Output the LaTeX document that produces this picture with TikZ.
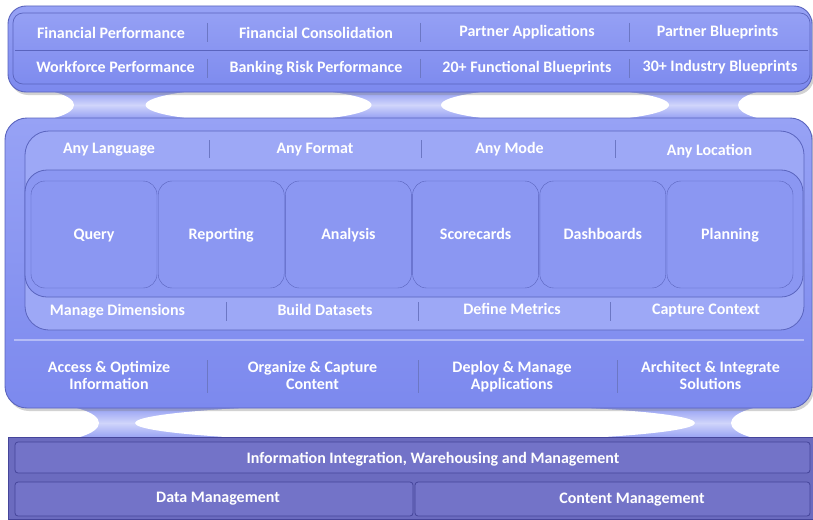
\documentclass[tikz,border=0pt]{standalone}
\usepackage{fontspec}
\setmainfont{Carlito}
\usetikzlibrary{positioning,shadows}
\definecolor{paneltop}{HTML}{97A2F5}
\definecolor{panelbot}{HTML}{7C89EE}
\definecolor{frameline}{HTML}{5A64BE}
\definecolor{stripcol}{HTML}{9DA8F6}
\definecolor{cardcol}{HTML}{8B97F2}
\definecolor{necktop}{HTML}{8E99F2}
\definecolor{neckmid}{HTML}{D0D5FB}
\definecolor{sepcol}{HTML}{6C77C4}
\definecolor{basecol}{HTML}{6B6BBF}
\definecolor{baseline}{HTML}{45459A}
\definecolor{basestrip}{HTML}{7373C8}

\begin{document}
\begin{tikzpicture}[x=1pt,y=-1pt]
    \tikzstyle{lbl}=[text=white,font=\bfseries\fontsize{16}{17}\selectfont,align=center,inner sep=0pt,text height=10pt,text depth=0pt]
    \tikzstyle{panel}=[draw=frameline,line width=0.9pt,top color=paneltop,bottom color=panelbot,drop shadow={shadow xshift=2pt,shadow yshift=-3pt,opacity=0.35}]
    \tikzstyle{card}=[draw=frameline,fill=cardcol,rounded corners=14pt,minimum width=126pt,minimum height=107pt,lbl]
    \tikzstyle{sep}=[draw=sepcol,line width=1pt]
    \tikzstyle{neck}=[top color=necktop,bottom color=necktop,middle color=neckmid]
    \tikzstyle{base}=[draw=baseline,line width=0.8pt,fill=basestrip,rounded corners=3pt]

    \useasboundingbox (0,0) rectangle (813,519);
    \fill[white] (0,0) rectangle (813,519);

    \path[neck] (30,90) rectangle (780,120);
    \fill[white] (18,105) ellipse [x radius=56pt, y radius=17pt];
    \fill[white] (258.5,105) ellipse [x radius=113pt, y radius=17pt];
    \fill[white] (555,105) ellipse [x radius=114pt, y radius=17pt];
    \fill[white] (792,105) ellipse [x radius=54pt, y radius=17pt];

    \path[neck] (60,406) rectangle (760,440);
    \fill[white] (40,423) ellipse [x radius=59pt, y radius=19pt];
    \fill[white] (415,423) ellipse [x radius=280pt, y radius=19pt];
    \fill[white] (790,423) ellipse [x radius=59pt, y radius=19pt];

    \path[panel,rounded corners=18pt] (8,6) rectangle (812,92);
    \draw[frameline,line width=0.7pt,rounded corners=10pt] (13,13) rectangle (810,84);
    \draw[frameline,line width=0.7pt] (15,50) -- (808,50);
    \draw[sep] (207,23) -- (207,42) (420,23) -- (420,42) (629,23) -- (629,42);
    \draw[sep] (207,59) -- (207,78) (420,59) -- (420,78) (629,59) -- (629,78);

    \node (finperf) at (111,33) [lbl] {Financial Performance};
    \node (fincons) at (316,33) [lbl] {Financial Consolidation};
    \node (partapp) at (527,32) [lbl] {Partner Applications};
    \node (partblue) at (717.5,32) [lbl] {Partner Blueprints};
    \node (workperf) at (115.5,67) [lbl] {Workforce Performance};
    \node (bankrisk) at (316,67) [lbl] {Banking Risk Performance};
    \node (funcblue) at (527,67) [lbl] {20+ Functional Blueprints};
    \node (indblue) at (720,66) [lbl] {30+ Industry Blueprints};

    \path[panel,rounded corners=22pt] (5,118) rectangle (812,408);
    \path[draw=frameline,line width=0.8pt,fill=stripcol,rounded corners=24pt] (25,131) rectangle (804,330);
    \path[draw=frameline,line width=0.8pt,fill=cardcol,rounded corners=22pt] (25,170) rectangle (803,297);
    \draw[white,opacity=0.4,line width=1.5pt] (14,340) -- (804,340);
    \draw[sep] (209,140) -- (209,158) (421,140) -- (421,158) (615,140) -- (615,158);
    \draw[sep] (226,302) -- (226,321) (418,302) -- (418,321) (610,302) -- (610,321);
    \draw[sep] (207,360) -- (207,393) (418,360) -- (418,393) (617,360) -- (617,393);

    \node (anylang) at (109,148) [lbl] {Any Language};
    \node (anyform) at (315,148) [lbl] {Any Format};
    \node (anymode) at (509.5,148) [lbl] {Any Mode};
    \node (anyloc) at (709.5,150) [lbl] {Any Location};

    \node (query) at (94,234.5) [card] {Query};
    \node (reporting) [card, right=0.8pt of query] {Reporting};
    \node (analysis) [card, right=0.8pt of reporting] {Analysis};
    \node (scorecards) [card, right=0.8pt of analysis] {Scorecards};
    \node (dashboards) [card, right=0.8pt of scorecards] {Dashboards};
    \node (planning) [card, right=0.8pt of dashboards] {Planning};

    \node (managedim) at (117.5,310) [lbl] {Manage Dimensions};
    \node (builddata) at (325,310) [lbl] {Build Datasets};
    \node (definemet) at (512,309) [lbl] {Define Metrics};
    \node (capturectx) at (706,309) [lbl] {Capture Context};

    \node (access) at (109,384) [lbl] {Access \& Optimize\\Information};
    \node (organize) at (312.5,384) [lbl] {Organize \& Capture\\Content};
    \node (deploy) at (512,384) [lbl] {Deploy \& Manage\\Applications};
    \node (architect) at (710.5,384) [lbl] {Architect \& Integrate\\Solutions};

    \path[draw=baseline,line width=0.9pt,fill=basecol,drop shadow={shadow xshift=2pt,shadow yshift=-3pt,opacity=0.3}] (8,437) rectangle (813,519);
    \path[base] (15,442) rectangle (810,473);
    \path[base] (15,482) rectangle (413,516);
    \path[base] (415,482) rectangle (810,516);

    \node (integration) at (433,458) [lbl] {Information Integration, Warehousing and Management};
    \node (datamgmt) at (218,497) [lbl] {Data Management};
    \node (contentmgmt) at (632,498) [lbl] {Content Management};
\end{tikzpicture}
\end{document}
